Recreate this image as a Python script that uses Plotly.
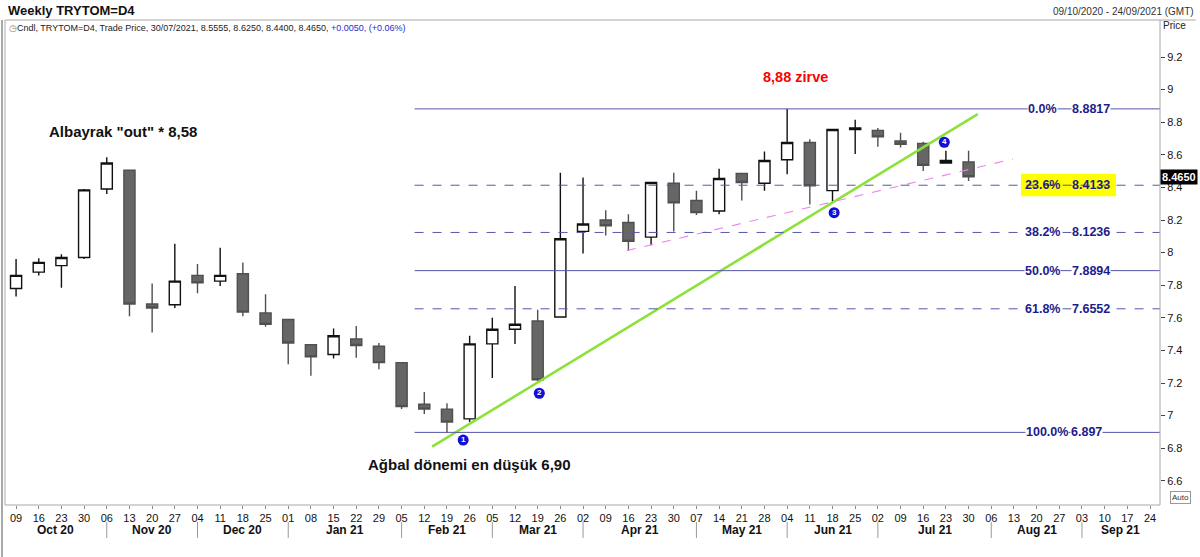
import pandas as pd
import plotly.graph_objects as go

# ---------------- data ----------------
dates = pd.date_range("2020-10-09", periods=43, freq="7D")
opens = [7.78, 7.88, 7.92, 7.97, 8.39, 8.505, 7.685, 7.68, 7.86, 7.825, 7.87, 7.63,
         7.59, 7.435, 7.375, 7.47, 7.425, 7.325, 7.07, 7.04, 6.98, 7.44, 7.53, 7.58,
         7.605, 8.13, 8.20, 8.185, 8.095, 8.425, 8.32, 8.255, 8.485, 8.425, 8.57,
         8.675, 8.38, 8.755, 8.75, 8.685, 8.67, 8.55, 8.5555]
highs = [7.96, 7.965, 7.99, 8.39, 8.585, 8.505, 7.81, 8.055, 7.93, 8.03, 7.94, 7.745,
         7.59, 7.44, 7.535, 7.55, 7.445, 7.325, 7.145, 7.075, 7.49, 7.60, 7.795, 7.65,
         8.49, 8.46, 8.26, 8.235, 8.43, 8.49, 8.38, 8.515, 8.49, 8.62, 8.8817,
         8.695, 8.76, 8.815, 8.765, 8.735, 8.68, 8.625, 8.625]
lows = [7.73, 7.86, 7.785, 7.96, 8.36, 7.61, 7.51, 7.66, 7.75, 7.795, 7.61, 7.545,
        7.315, 7.245, 7.35, 7.355, 7.285, 7.04, 7.01, 6.897, 6.96, 7.23, 7.44, 7.21,
        7.605, 7.995, 8.105, 8.01, 8.045, 8.13, 8.23, 8.235, 8.32, 8.38, 8.48,
        8.295, 8.31, 8.605, 8.65, 8.645, 8.50, 8.55, 8.44]
closes = [7.86, 7.94, 7.97, 8.385, 8.55, 7.685, 7.66, 7.825, 7.815, 7.86, 7.635, 7.56,
          7.445, 7.36, 7.49, 7.43, 7.325, 7.055, 7.04, 6.96, 7.44, 7.53, 7.56, 7.22,
          8.085, 8.175, 8.165, 8.07, 8.43, 8.305, 8.245, 8.455, 8.43, 8.565, 8.675,
          8.41, 8.755, 8.765, 8.71, 8.665, 8.535, 8.565, 8.465]

fib_pcts = ["0.0%", "23.6%", "38.2%", "50.0%", "61.8%", "100.0%"]
fib_vals = [8.8817, 8.4133, 8.1236, 7.8894, 7.6552, 6.897]
fib_txt = ["8.8817", "8.4133", "8.1236", "7.8894", "7.6552", "6.897"]
fib_dash = ["solid", "dash", "dash", "solid", "dash", "solid"]
fib_start = "2021-02-09"

green_x = ["2021-02-14 10:00", "2021-08-01 20:00"]
green_y = [6.809, 8.850]
pink_x = ["2021-04-15 12:00", "2021-08-12 16:00"]
pink_y = [8.012, 8.574]

pt_x = ["2021-02-24", "2021-03-19 12:00", "2021-06-18 12:00", "2021-07-22 12:00"]
pt_y = [6.85, 7.137, 8.245, 8.677]
pt_lbl = ["1", "2", "3", "4"]

y_ticks = [6.6, 6.8, 7.0, 7.2, 7.4, 7.6, 7.8, 8.0, 8.2, 8.4, 8.6, 8.8, 9.0, 9.2]
y_ticktext = ["6.6", "6.8", "7", "7.2", "7.4", "7.6", "7.8", "8", "8.2", "8.4", "8.6", "8.8", "9", "9.2"]

x_left = pd.Timestamp("2020-10-05 14:00")
x_right = pd.Timestamp("2021-09-27 02:00")
tick_dates = pd.date_range("2020-10-09", "2021-09-24", freq="7D")
y_lo, y_hi = 6.4515, 9.427

FONT = "Liberation Sans, Arial, sans-serif"

fig = go.Figure()
fig.add_trace(go.Candlestick(
    x=dates, open=opens, high=highs, low=lows, close=closes,
    increasing=dict(line=dict(color="#111111", width=1.4), fillcolor="white"),
    decreasing=dict(line=dict(color="#505050", width=1.4), fillcolor="#666666"),
    whiskerwidth=0, showlegend=False, hoverinfo="skip"))

# trend lines
fig.add_trace(go.Scatter(x=green_x, y=green_y, mode="lines",
                         line=dict(color="#8ee03a", width=2.6), showlegend=False, hoverinfo="skip"))
fig.add_trace(go.Scatter(x=pink_x, y=pink_y, mode="lines",
                         line=dict(color="#ee82ee", width=1.1, dash="dash"), showlegend=False, hoverinfo="skip"))
# numbered points
fig.add_trace(go.Scatter(x=pt_x, y=pt_y, mode="markers+text", text=["<b>%s</b>" % t for t in pt_lbl],
                         textposition="middle center",
                         textfont=dict(color="white", size=8, family=FONT),
                         marker=dict(color="#1010d8", size=11),
                         showlegend=False, hoverinfo="skip"))

shapes = []
# yellow box behind 23.6%
shapes.append(dict(type="rect", xref="paper", yref="y", x0=0.8797, x1=0.9619,
                   y0=8.346, y1=8.484, fillcolor="#ffff00", line=dict(width=0), layer="below"))
for v, d in zip(fib_vals, fib_dash):
    shapes.append(dict(type="line", xref="x", yref="y", x0=fib_start, x1=x_right,
                       y0=v, y1=v, line=dict(color="#5656a8", width=1, dash=d)))
# frame
shapes.append(dict(type="rect", xref="paper", yref="paper", x0=0, x1=1, y0=0, y1=1,
                   line=dict(color="#a8a8a8", width=1)))
shapes.append(dict(type="line", xref="paper", yref="paper", x0=-0.0026, x1=-0.0026,
                   y0=1, y1=-0.107, line=dict(color="#a8a8a8", width=2)))
shapes.append(dict(type="line", xref="paper", yref="paper", x0=1, x1=1.031,
                   y0=1, y1=1, line=dict(color="#a8a8a8", width=1)))

# month separators and labels
annotations = []
month_starts = [d for d in tick_dates if d.day <= 7 and d != tick_dates[0]]
bounds = [x_left] + month_starts + [x_right]
for i in range(len(bounds) - 1):
    a, b = bounds[i], bounds[i + 1]
    mid = a + (b - a) / 2
    lab_d = a if i > 0 else tick_dates[0]
    annotations.append(dict(x=mid, y=-0.052, xref="x", yref="paper", text="<b>%s</b>" % lab_d.strftime("%b %y"),
                            showarrow=False, font=dict(size=12, color="#111", family=FONT),
                            xanchor="center", yanchor="middle"))
for d in month_starts:
    shapes.append(dict(type="line", xref="x", yref="paper", x0=d, x1=d, y0=-0.035, y1=-0.068,
                       line=dict(color="#999", width=1)))

# fib labels
for p, v, t in zip(fib_pcts, fib_vals, fib_txt):
    bg = "rgba(0,0,0,0)" if p == "23.6%" else "white"
    xp = 0.8985 if p != "100.0%" else 0.9025
    xv = 0.9403 if p != "100.0%" else 0.936
    annotations.append(dict(x=xp, y=v, xref="paper", yref="y", text="<b>%s</b>" % p, showarrow=False,
                            font=dict(size=12.5, color="#1c1c8c", family=FONT), bgcolor=bg, borderpad=0,
                            xanchor="center", yanchor="middle"))
    annotations.append(dict(x=xv, y=v, xref="paper", yref="y", text="<b>%s</b>" % t, showarrow=False,
                            font=dict(size=12.5, color="#1c1c8c", family=FONT), bgcolor=bg, borderpad=0,
                            xanchor="center", yanchor="middle"))

# text notes
annotations += [
    dict(x="2021-06-06 12:00", y=9.077, xref="x", yref="y", text="<b>8,88 zirve</b>", showarrow=False,
         font=dict(size=14.5, color="#ff0000", family=FONT)),
    dict(x="2020-11-11", y=8.746, xref="x", yref="y", text="<b>Albayrak \"out\" * 8,58</b>", showarrow=False,
         font=dict(size=15, color="#111", family=FONT)),
    dict(x="2021-02-26", y=6.697, xref="x", yref="y", text="<b>Ağbal dönemi en düşük 6,90</b>", showarrow=False,
         font=dict(size=15, color="#111", family=FONT)),
    # header
    dict(x=0.001, y=1.0, xref="paper", yref="paper", yshift=10, text="<b>Weekly TRYTOM=D4</b>", showarrow=False,
         xanchor="left", yanchor="middle", font=dict(size=13, color="#111", family=FONT)),
    dict(x=1.031, y=1.0, xref="paper", yref="paper", yshift=9, text="09/10/2020 - 24/09/2021 (GMT)",
         showarrow=False, xanchor="right", yanchor="middle", font=dict(size=10, color="#333", family=FONT)),
    dict(x=0.002, y=1.0, xref="paper", yref="paper", yshift=-8,
         text="<span style='color:#888'>◷</span>Cndl, TRYTOM=D4, Trade Price, 30/07/2021, 8.5555, 8.6250, 8.4400, 8.4650, "
              "<span style='color:#2a2ad0'>+0.0050, (+0.06%)</span>",
         showarrow=False, xanchor="left", yanchor="middle", font=dict(size=9, color="#222", family=FONT)),
    dict(x=1.0, y=1.0, xref="paper", yref="paper", xshift=14, yshift=-5, text="Price", showarrow=False,
         xanchor="center", yanchor="middle", font=dict(size=10, color="#222", family=FONT)),
    dict(x=1.0, y=closes[-1], xref="paper", yref="y", text="<b>8.4650</b>", showarrow=False,
         xanchor="left", yanchor="middle", bgcolor="black", borderpad=1,
         font=dict(size=11, color="white", family=FONT)),
    dict(x=1.0, y=0.0, xref="paper", yref="paper", xshift=20, yshift=8, text="Auto", showarrow=False,
         xanchor="center", yanchor="middle", bordercolor="#999", borderwidth=1, borderpad=1,
         font=dict(size=8, color="#333", family=FONT)),
]

fig.update_layout(
    width=1200, height=557,
    margin=dict(l=5, r=40, t=20, b=52),
    paper_bgcolor="white", plot_bgcolor="white",
    font=dict(family=FONT, color="#111"),
    showlegend=False,
    shapes=shapes, annotations=annotations,
    xaxis=dict(type="date", range=[x_left, x_right], rangeslider=dict(visible=False),
               tickmode="array", tickvals=list(tick_dates), ticktext=[d.strftime("%d") for d in tick_dates],
               ticks="outside", ticklen=3, tickcolor="#888", showgrid=False, zeroline=False,
               showline=False, tickfont=dict(size=11, color="#111", family=FONT)),
    yaxis=dict(side="right", range=[y_lo, y_hi], tickmode="array", tickvals=y_ticks, ticktext=y_ticktext,
               ticks="outside", ticklen=4, tickcolor="#444", showgrid=False, zeroline=False,
               showline=False, tickfont=dict(size=11, color="#111", family=FONT)),
)

fig.write_html("out.html", config={"displayModeBar": False},
               post_script="document.body.style.margin='0px';")
